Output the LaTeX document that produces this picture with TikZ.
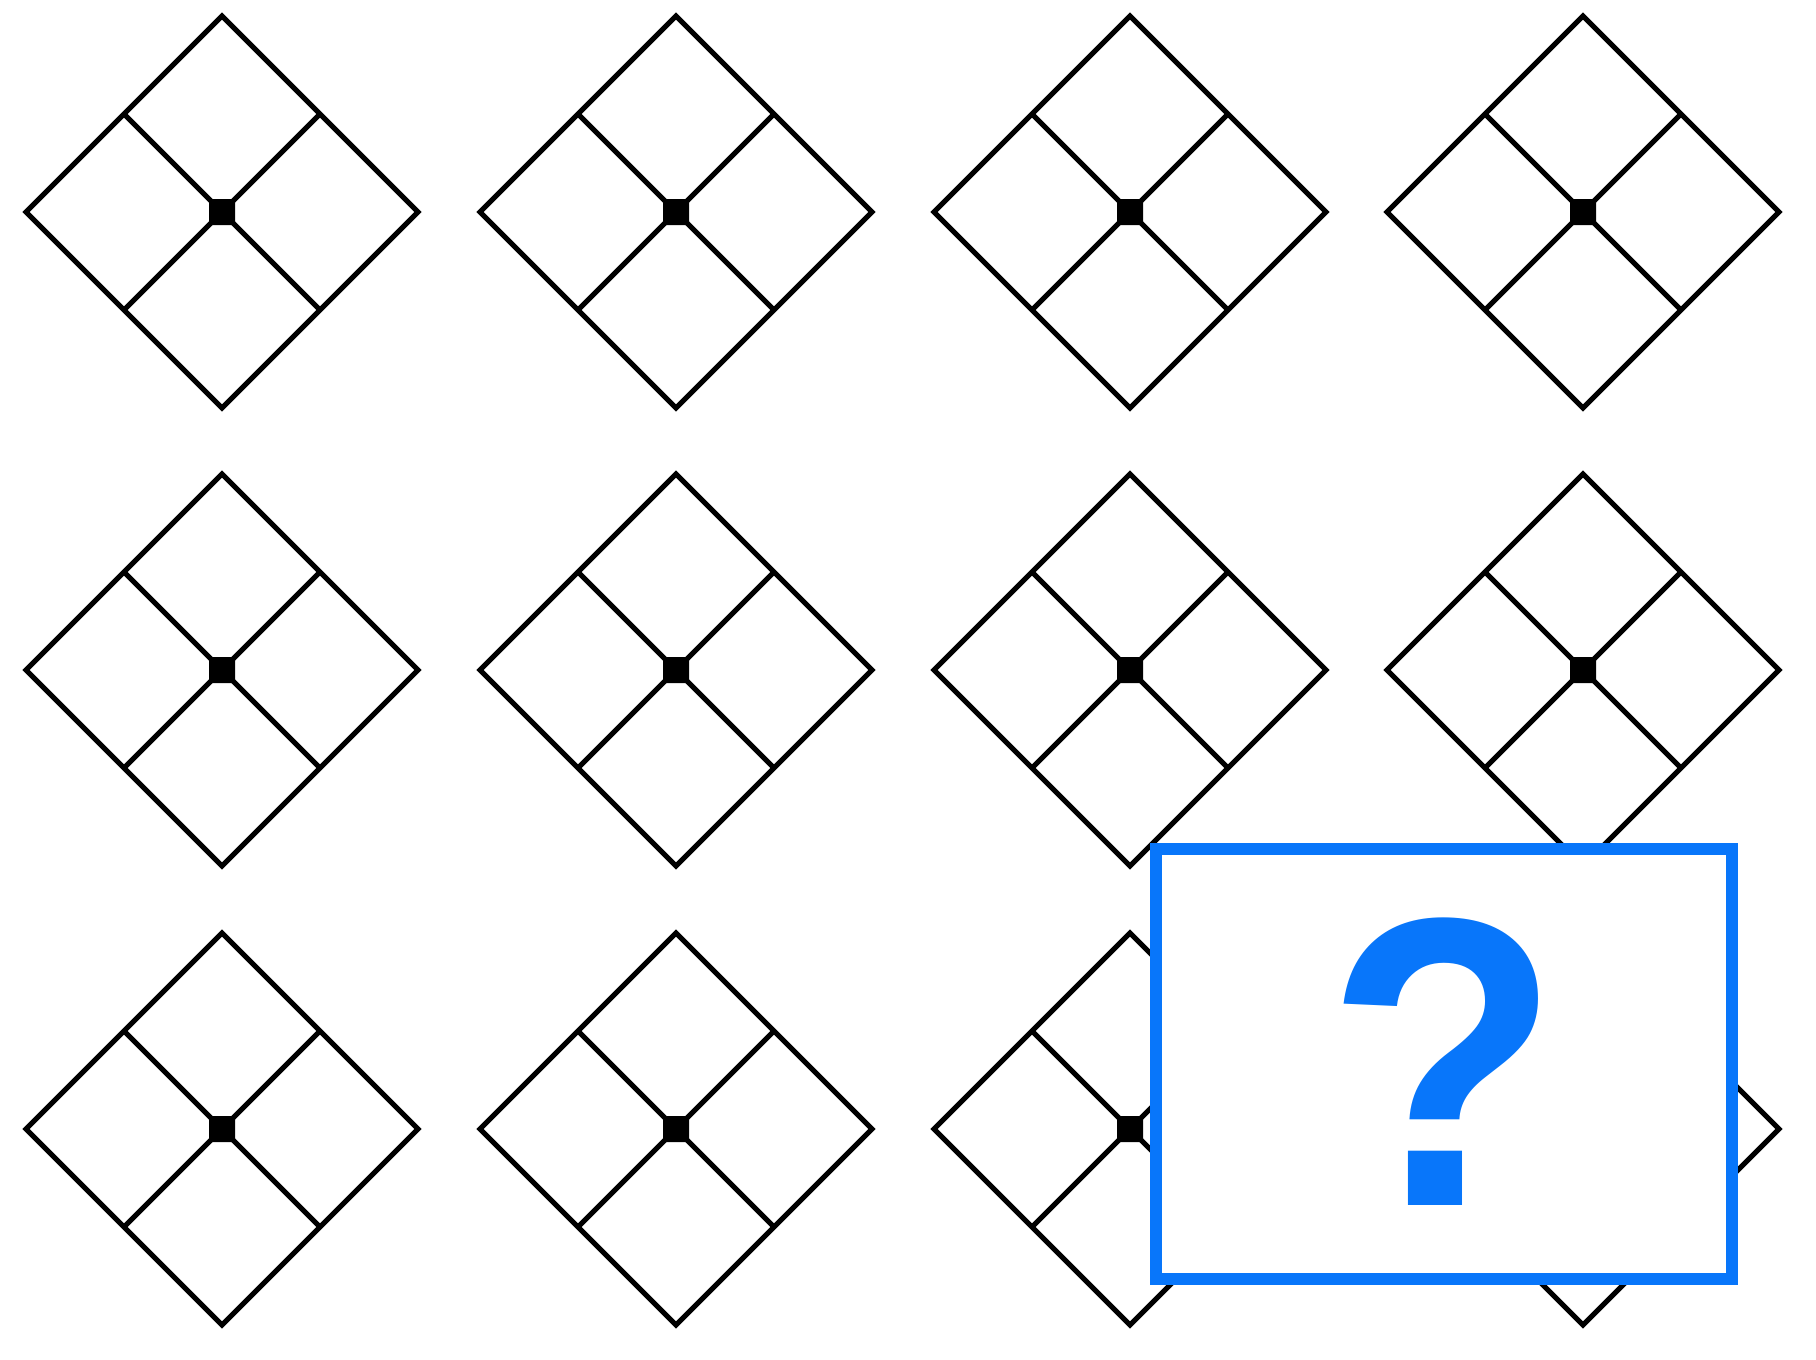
\documentclass[tikz,border=0pt]{standalone}
\usepackage{fontspec}
\newfontfamily\qfont{Liberation Sans}
\definecolor{qblue}{RGB}{8,118,250}
\tikzset{
  dline/.style={draw=black, line width=5pt, line join=miter},
  iline/.style={draw=black, line width=5pt},
}
\begin{document}
\begin{tikzpicture}[x=1pt,y=-1pt]
\useasboundingbox[fill=white] (0,0) rectangle (1816,1360);
\foreach \cx in {222,676,1130,1583}{
  \foreach \cy in {212,670,1129}{
    \begin{scope}[shift={(\cx,\cy)}]
      \draw[dline] (0,-196) -- (196,0) -- (0,196) -- (-196,0) -- cycle;
      \draw[iline] (-98,-98) -- (98,98);
      \draw[iline] (98,-98) -- (-98,98);
      \fill[black, rounded corners=3pt] (-13,-13) rectangle (13,13);
    \end{scope}
  }
}
\draw[draw=qblue, fill=white, line width=12pt] (1156,849) rectangle (1732,1279);
\node[inner sep=0pt, text=qblue, font=\qfont\bfseries\fontsize{412}{412}\selectfont] (q) at (1444,1062) {\scalebox{0.93}[1]{?}};
\end{tikzpicture}
\end{document}
